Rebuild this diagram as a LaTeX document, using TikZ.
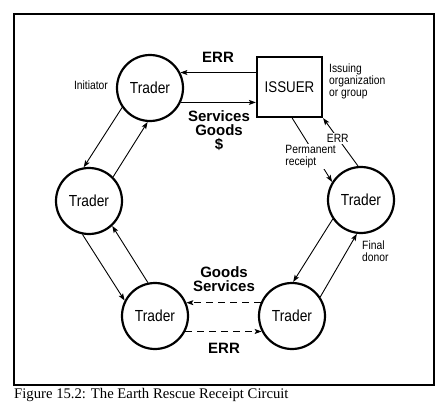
\documentclass[tikz,border=0pt]{standalone}
\usepackage{fontspec}
\setmainfont{Liberation Sans}
\newfontfamily\condfont[FakeStretch=0.86]{Liberation Sans}
\newfontfamily\capfont{Liberation Serif}
\usetikzlibrary{arrows.meta,calc}
\begin{document}
\begin{tikzpicture}[x=1pt,y=-1pt,
  trader/.style={circle,draw,line width=2.2pt,minimum size=66pt,inner sep=0pt,font=\condfont\fontsize{16}{18}\selectfont},
  issuerbox/.style={rectangle,draw,line width=2.2pt,minimum width=65pt,minimum height=60pt,inner sep=0pt,font=\condfont\fontsize{15.5}{18}\selectfont},
  arr/.style={line width=0.9pt,-{Stealth[length=7pt,width=5pt,inset=1.5pt]}},
  darr/.style={arr,dash pattern=on 7pt off 5pt},
  bigl/.style={font=\bfseries\fontsize{15}{14}\selectfont,align=center,inner sep=0pt},
  smalll/.style={font=\condfont\fontsize{12}{12}\selectfont,inner sep=0pt},
  frame/.style={draw,line width=1.5pt}]
\useasboundingbox (0,0) rectangle (448,407);
\draw[frame] (14,14) rectangle (434,385);
\node[trader] (T1) at (150,88) {Trader};
\node[trader] (T2) at (89,201) {Trader};
\node[trader] (T3) at (361,200) {Trader};
\node[trader] (T4) at (155,316) {Trader};
\node[trader] (T5) at (292,316) {Trader};
\node[issuerbox] (I) at (289.5,87) {ISSUER};
% top arrows
\draw[arr] (I.west |- T1.27) -- (T1.27);
\draw[arr] (T1.-25) -- (I.west |- T1.-25);
% left side
\draw[arr] (T1.215.5) -- (T2.99);
\draw[arr] (T2.45) -- (T1.266);
\draw[arr] (T2.259) -- (T4.153);
\draw[arr] (T4.102) -- (T2.313);
% right side
\draw[arr] (T3.214.6) -- (T5.88);
\draw[arr] (T5.34) -- (T3.263);
% bottom dashed
\draw[darr] (T5.157) -- (T4.23);
\draw[darr] (T4.-27) -- (T5.207);
% issuer connections
\draw[arr] (T3.95) -- (I.south east)
  node[pos=0.58,fill=white,smalll,inner sep=1.5pt] (E2) {ERR};
\draw[arr] ($(I.south west)!0.54!(I.south east)$) -- (T3.148)
  node[pos=0.6,fill=white,smalll,align=left,inner sep=1pt,xshift=-5.5pt] (PR) {Permanent\\receipt};
% labels
\node[bigl] (L1) at (218,57) {ERR};
\node[bigl] (L2) at (219,131) {Services\\Goods\\\$};
\node[bigl] (L3) at (224,279) {Goods\\Services};
\node[bigl] (L4) at (224,348) {ERR};
\node[smalll] (L5) at (91,85) {Initiator};
\node[smalll,align=left,anchor=west] (L6) at (329,81) {Issuing\\organization\\or group};
\node[smalll,align=left,anchor=west] (L7) at (362,251) {Final\\donor};
\node[font=\capfont\fontsize{14.7}{16}\selectfont,anchor=west,inner sep=0pt] (C) at (14,395) {Figure 15.2: The Earth Rescue Receipt Circuit};
\end{tikzpicture}
\end{document}
